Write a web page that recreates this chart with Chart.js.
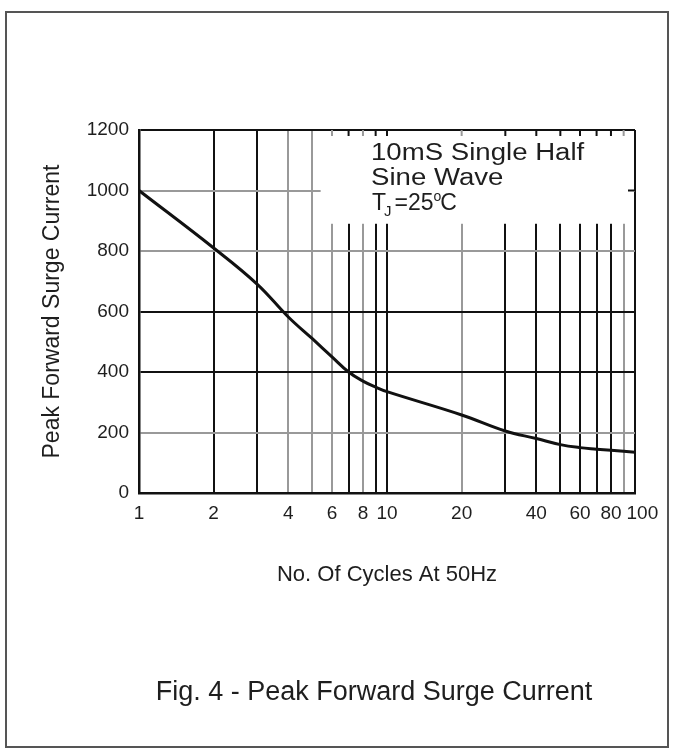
<!DOCTYPE html>
<html>
<head>
<meta charset="utf-8">
<script src="https://cdn.jsdelivr.net/npm/chart.js@4.4.1/dist/chart.umd.min.js"></script>
<style>
    body { margin: 0; background: #fff; }
    #frame { position: absolute; left: 5px; top: 11px; width: 664px; height: 737px; border: 2px solid #555; box-sizing: border-box; }
    #surgeChart { position: absolute; left: 0; top: 0; }
</style>
</head>
<body>
<div id="frame"></div>
<canvas id="surgeChart" width="673" height="754"></canvas>
<script>
// Curve: number of cycles -> peak forward surge current
var cycles = [1, 2, 3, 4, 5, 6, 7, 8, 9, 10, 20, 30, 40, 50, 60, 70, 80, 90, 100];
var surgeCurrent = [1000, 810, 690, 582, 510, 450, 400, 370, 350, 335, 258, 205, 180, 160, 150, 145, 141, 138, 135];

// Axis ticks / grid
var xGridValues = [1, 2, 3, 4, 5, 6, 7, 8, 9, 10, 20, 30, 40, 50, 60, 70, 80, 90, 100];
var xTickLabels = [1, 2, 4, 6, 8, 10, 20, 40, 60, 80, 100];
var yTickValues = [0, 200, 400, 600, 800, 1000, 1200];
var xDarkLines = [2, 3, 7, 9, 10, 30, 40, 50, 60, 70, 80, 100];
var yDarkLines = [400, 600, 1200];

var FONT = '"Liberation Sans", Arial, Helvetica, sans-serif';
var TEXT = '#1e1e1e';

// white box behind the note, caption and the note text
var notePlugin = {
    id: 'notePlugin',
    beforeDatasetsDraw: function (chart) {
        var ctx = chart.ctx, a = chart.chartArea;
        var xs = chart.scales.x, ys = chart.scales.y;
        var boxLeft = xs.getPixelForValue(5.4);
        var boxBottom = ys.getPixelForValue(890);
        ctx.save();
        ctx.fillStyle = '#fff';
        ctx.fillRect(boxLeft, a.top + 1, a.right - 1 - boxLeft, boxBottom - a.top - 1);
        // short marks left under the top edge
        ctx.lineWidth = 2;
        xGridValues.forEach(function (v) {
            if (v > 5.4 && v < 100) {
                var px = xs.getPixelForValue(v);
                ctx.strokeStyle = xDarkLines.indexOf(v) >= 0 ? '#111' : '#999';
                ctx.beginPath();
                ctx.moveTo(px, a.top);
                ctx.lineTo(px, a.top + 6);
                ctx.stroke();
            }
        });
        var py = ys.getPixelForValue(1000);
        ctx.strokeStyle = '#111';
        ctx.beginPath();
        ctx.moveTo(a.right - 7, py);
        ctx.lineTo(a.right, py);
        ctx.stroke();
        ctx.restore();
    },
    afterDraw: function (chart) {
        var ctx = chart.ctx, a = chart.chartArea;
        ctx.save();
        ctx.fillStyle = TEXT;
        ctx.textBaseline = 'alphabetic';
        ctx.textAlign = 'left';

        ctx.save();
        ctx.translate(a.left + 232, 0);
        ctx.scale(1.2, 1);
        ctx.font = '23px ' + FONT;
        ctx.fillText('10mS Single Half', 0, a.top + 30);
        ctx.fillText('Sine Wave', 0, a.top + 55);
        ctx.restore();

        // T_J = 25 °C
        var cx = a.left + 233, base = a.top + 80;
        ctx.font = '23px ' + FONT;
        ctx.fillText('T', cx, base);
        cx += ctx.measureText('T').width - 2;
        ctx.font = '15px ' + FONT;
        ctx.fillText('J', cx, base + 6);
        cx += ctx.measureText('J').width + 3;
        ctx.font = '23px ' + FONT;
        ctx.fillText('=25', cx, base);
        cx += ctx.measureText('=25').width;
        ctx.font = '14px ' + FONT;
        ctx.fillText('o', cx, base - 9);
        cx += ctx.measureText('o').width - 1;
        ctx.font = '23px ' + FONT;
        ctx.fillText('C', cx, base);

        // figure caption
        ctx.font = '27px ' + FONT;
        ctx.textAlign = 'center';
        ctx.textBaseline = 'middle';
        ctx.fillText('Fig. 4 - Peak Forward Surge Current', 374, 693);
        ctx.restore();
    }
};

var ctxSurge = document.getElementById('surgeChart').getContext('2d');
var surgeChart = new Chart(ctxSurge, {
    type: 'line',
    data: {
        datasets: [{
            label: 'Peak Forward Surge Current',
            data: cycles.map(function (c, i) { return { x: c, y: surgeCurrent[i] }; }),
            borderColor: '#111',
            borderWidth: 3,
            pointRadius: 0,
            tension: 0.4,
            fill: false
        }]
    },
    options: {
        responsive: false,
        animation: false,
        devicePixelRatio: 1,
        layout: { padding: { left: 35, top: 130, right: 38, bottom: 162 } },
        plugins: {
            legend: { display: false },
            tooltip: { enabled: false }
        },
        scales: {
            x: {
                type: 'logarithmic',
                min: 1,
                max: 100,
                afterBuildTicks: function (scale) {
                    scale.ticks = xGridValues.map(function (v) { return { value: v }; });
                },
                afterFit: function (scale) { scale.height = 99; },
                ticks: {
                    autoSkip: false,
                    maxRotation: 0,
                    padding: 9,
                    color: TEXT,
                    font: { family: FONT, size: 19 },
                    callback: function (value) {
                        if (xTickLabels.indexOf(value) < 0) return '';
                        // last label sits a little right of its line, as in the print
                        return value === 100 ? '\u2002 100' : String(value);
                    }
                },
                grid: {
                    drawTicks: false,
                    lineWidth: 2,
                    color: function (c) {
                        return xDarkLines.indexOf(c.tick.value) >= 0 ? '#111' : '#999';
                    }
                },
                border: { color: '#111', width: 2.5 },
                title: {
                    display: true,
                    text: 'No. Of Cycles At 50Hz',
                    color: TEXT,
                    font: { family: FONT, size: 22 },
                    padding: { top: 4, bottom: 4 }
                }
            },
            y: {
                type: 'linear',
                min: 0,
                max: 1200,
                afterBuildTicks: function (scale) {
                    scale.ticks = yTickValues.map(function (v) { return { value: v }; });
                },
                afterFit: function (scale) { scale.width = 104; },
                ticks: {
                    padding: 10,
                    color: TEXT,
                    font: { family: FONT, size: 19 },
                    callback: function (value) { return String(value); }
                },
                grid: {
                    drawTicks: false,
                    lineWidth: 2,
                    color: function (c) {
                        return yDarkLines.indexOf(c.tick.value) >= 0 ? '#111' : '#999';
                    }
                },
                border: { color: '#111', width: 2.5 },
                title: {
                    display: true,
                    text: 'Peak Forward Surge Current',
                    color: TEXT,
                    font: { family: FONT, size: 23 },
                    padding: { top: 4, bottom: 4 }
                }
            }
        }
    },
    plugins: [notePlugin]
});
</script>
</body>
</html>
